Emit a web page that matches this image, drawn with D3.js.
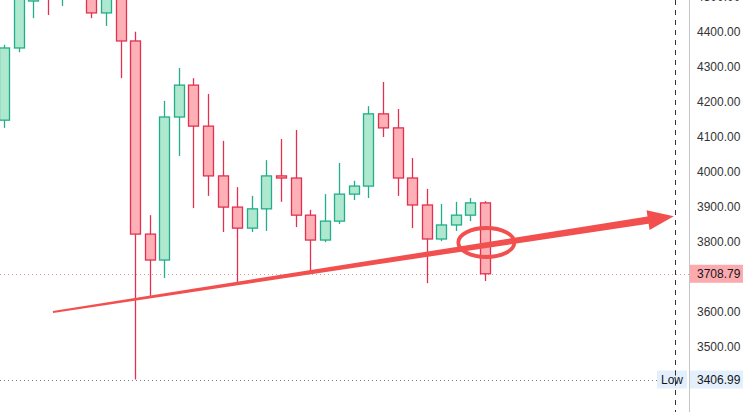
<!DOCTYPE html>
<html><head><meta charset="utf-8">
<script src="https://cdn.jsdelivr.net/npm/d3@7"></script>
<style>html,body{margin:0;padding:0;background:#fff;overflow:hidden}svg{display:block;font-family:"Liberation Sans",Arial,sans-serif}</style>
</head><body>
<script>
// candle data (index order)
const opens  = [4147,4353,4487,4560,4500,4590,4540,4453,4515,4373,3822,3748,4156,4247,4130,3988,3899,3839,3894,3988,3982,3876,3805,3859,3936,3959,4165,4125,3982,3905,3808,3848,3876,3911];
const highs  = [4362,4560,4560,4600,4610,4620,4570,4550,4540,4399,3876,4202,4296,4267,4222,4088,3956,3931,4033,4093,4119,3891,3936,4025,3974,4187,4256,4179,4039,3951,3908,3914,3925,3916];
const lows   = [4125,4341,4438,4447,4473,4505,4438,4416,4267,3406.99,3645,3697,4045,3896,3931,3828,3682,3828,3831,3914,3842,3717,3799,3851,3919,3925,4099,3931,3839,3682,3802,3831,3859,3688];
const closes = [4353,4530,4520,4500,4580,4540,4453,4520,4373,3822,3748,4156,4247,4130,3988,3899,3839,3894,3988,3982,3876,3805,3859,3936,3959,4165,4125,3982,3905,3808,3848,3876,3911,3708.79];
const tickValues = [3500,3600,3700,3800,3900,4000,4100,4200,4300,4400,4500];
const lastPrice = 3708.79;
const lowPrice = 3406.99;
const arrowFrom = [3.36, 3600];
const arrowTo = [45.95, 3873];
const circleAt = [33.09, 3798];

const W = 743, H = 412;
const svg = d3.select("body").append("svg").attr("width", W).attr("height", H);
const x = d3.scaleLinear().domain([0, 33]).range([4, 485]);
const y = d3.scaleLinear().domain([3400, 4500]).range([382, -3.55]);
const axisX = 689;

const green = {stroke:"#22ad8a", fill:"#ade8cf"};
const red = {stroke:"#e4304f", fill:"#fdb0b5"};

svg.append("defs").append("clipPath").attr("id","plot").append("rect").attr("x",0).attr("y",0).attr("width",axisX).attr("height",H);

const plot = svg.append("g").attr("clip-path","url(#plot)");

// dotted lines
plot.append("line").attr("x1",0).attr("x2",axisX).attr("y1",Math.round(y(lastPrice))+0.5).attr("y2",Math.round(y(lastPrice))+0.5)
  .attr("stroke","#e59aa0").attr("stroke-width",1).attr("stroke-dasharray","1,3");
plot.append("line").attr("x1",0).attr("x2",657).attr("y1",Math.round(y(lowPrice))+0.5).attr("y2",Math.round(y(lowPrice))+0.5)
  .attr("stroke","#7a7a7a").attr("stroke-width",1).attr("stroke-dasharray","1,3");

const data = opens.map((o,i)=>({i, o, h:highs[i], l:lows[i], c:closes[i]}));
const bw = 10;
const g = plot.selectAll("g.c").data(data).join("g");
g.append("line")
  .attr("x1", d=>Math.round(x(d.i))+0.5).attr("x2", d=>Math.round(x(d.i))+0.5)
  .attr("y1", d=>y(d.h)).attr("y2", d=>y(d.l))
  .attr("stroke", d=>d.c>=d.o?green.stroke:red.stroke).attr("stroke-width",1.3);
g.append("rect")
  .attr("x", d=>Math.round(x(d.i))-bw/2+0.5).attr("width", bw)
  .attr("y", d=>y(Math.max(d.o,d.c))).attr("height", d=>Math.max(1.5, Math.abs(y(d.o)-y(d.c))))
  .attr("fill", d=>d.c>=d.o?green.fill:red.fill)
  .attr("stroke", d=>d.c>=d.o?green.stroke:red.stroke).attr("stroke-width",1.3);

// annotation arrow (tapered)
const x0 = x(arrowFrom[0]), y0 = y(arrowFrom[1]);
const x1 = x(arrowTo[0]), y1 = y(arrowTo[1]);
const dx = x1-x0, dy = y1-y0, len = Math.hypot(dx,dy);
const ux = dx/len, uy = dy/len, nx = -uy, ny = ux;
const headLen = 26, headW = 10, w0 = 1, w1 = 3.6;
const bx = x1-ux*headLen, by = y1-uy*headLen;
const pts = [
  [x0+nx*w0, y0+ny*w0],
  [bx+nx*w1, by+ny*w1],
  [bx+nx*headW, by+ny*headW],
  [x1, y1],
  [bx-nx*headW, by-ny*headW],
  [bx-nx*w1, by-ny*w1],
  [x0-nx*w0, y0-ny*w0]
];
plot.append("path").attr("d", d3.line()(pts)+"Z").attr("fill","#f24f4f");
plot.append("ellipse").attr("cx", x(circleAt[0])).attr("cy", y(circleAt[1])).attr("rx",28).attr("ry",14.5)
  .attr("fill","none").attr("stroke","#f24f4f").attr("stroke-width",3.8);

// vertical dashed line
svg.append("line").attr("x1",675.5).attr("x2",675.5).attr("y1",0).attr("y2",H)
  .attr("stroke","#333").attr("stroke-width",1).attr("stroke-dasharray","5,5");

// axis
svg.append("line").attr("x1",axisX+0.5).attr("x2",axisX+0.5).attr("y1",0).attr("y2",H).attr("stroke","#c4c4c4");
const axis = d3.axisRight(y).tickValues(tickValues).tickFormat(d3.format(".2f")).tickSize(0).tickPadding(8);
const ax = svg.append("g").attr("transform",`translate(${axisX},0)`).call(axis);
ax.select(".domain").remove();
ax.selectAll("text").attr("fill","#333").attr("font-size","12px").attr("font-family","'Liberation Sans',Arial,sans-serif");
ax.selectAll(".tick").filter(d=>Math.abs(y(d)-y(lastPrice))<12).remove();

// last price label
const ly = y(lastPrice);
svg.append("rect").attr("x",axisX+1).attr("y",ly-9).attr("width",W-axisX).attr("height",18).attr("fill","#fcaaae");
svg.append("text").attr("x",697).attr("y",ly).attr("dy","0.35em").attr("font-size","12px").attr("fill","#131722").text(lastPrice.toFixed(2));

// low label
const lowY = y(lowPrice);
svg.append("rect").attr("x",657).attr("y",lowY-9).attr("width",30).attr("height",18).attr("fill","#e4effc");
svg.append("rect").attr("x",axisX+1).attr("y",lowY-9).attr("width",W-axisX).attr("height",18).attr("fill","#e4effc");
svg.append("text").attr("x",661).attr("y",lowY).attr("dy","0.35em").attr("font-size","12px").attr("fill","#131722").text("Low");
svg.append("line").attr("x1",675.5).attr("x2",675.5).attr("y1",lowY-9).attr("y2",lowY+9).attr("stroke","#333").attr("stroke-dasharray","5,5");
svg.append("text").attr("x",697).attr("y",lowY).attr("dy","0.35em").attr("font-size","12px").attr("fill","#131722").text(lowPrice.toFixed(2));
</script>
</body></html>
